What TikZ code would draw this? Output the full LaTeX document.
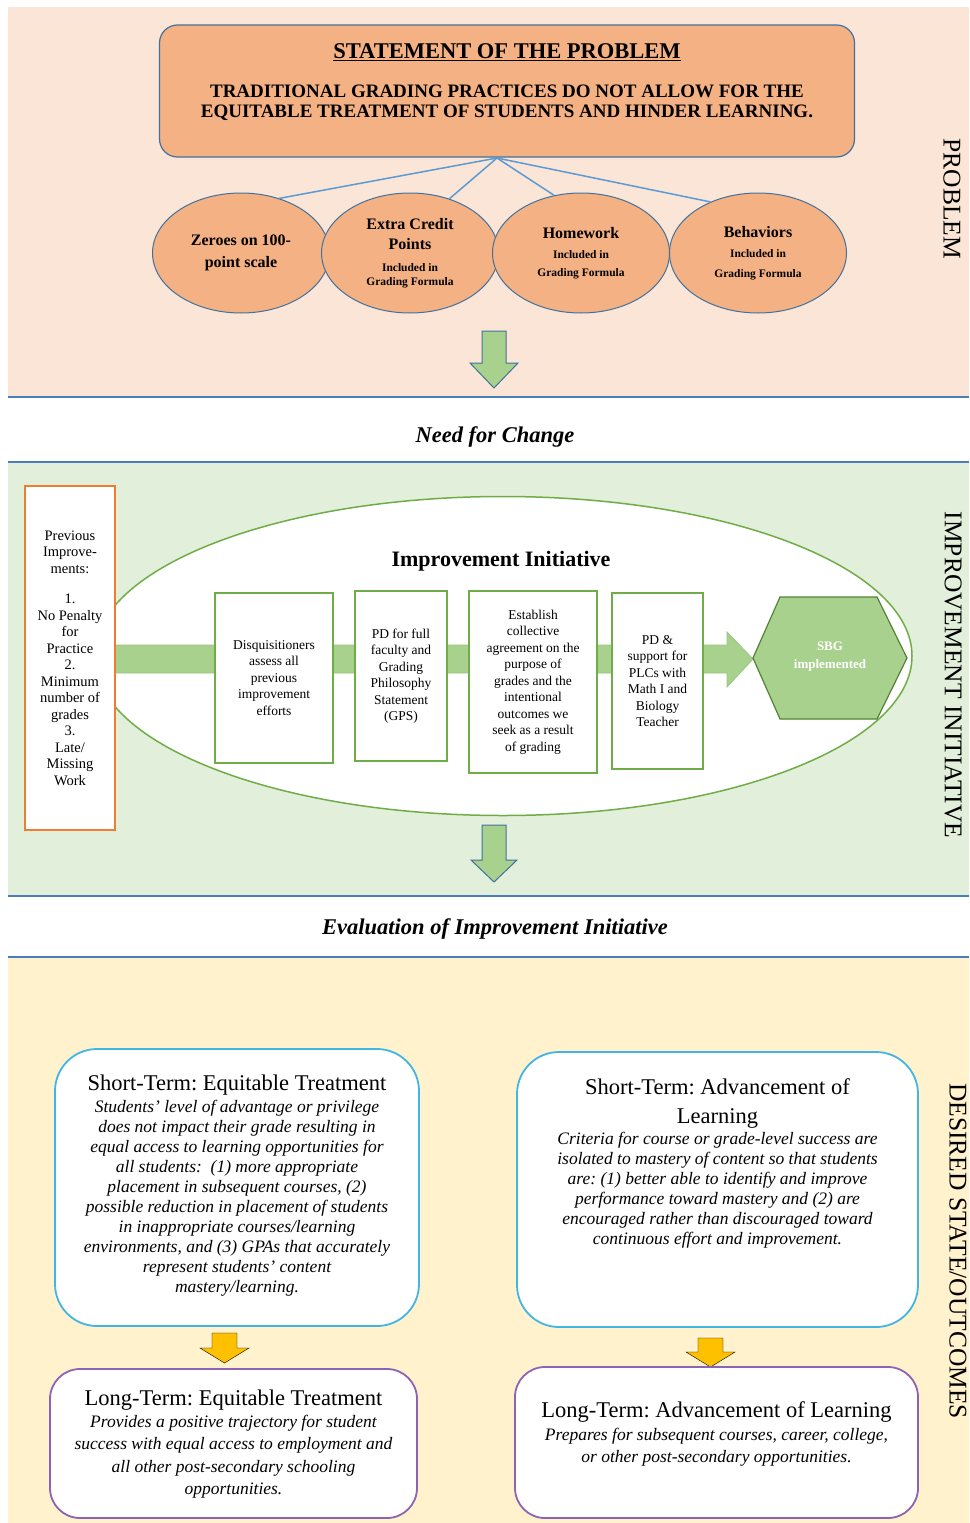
\documentclass[tikz,border=0pt]{standalone}
\usepackage{fontspec}
\setmainfont{Liberation Serif}
\usetikzlibrary{shapes.geometric}

\definecolor{peach}{HTML}{FBE5D6}
\definecolor{mint}{HTML}{E2EFDA}
\definecolor{cream}{HTML}{FFF2CC}
\definecolor{tan}{HTML}{F4B183}
\definecolor{slate}{HTML}{41719C}
\definecolor{sky}{HTML}{5B9BD5}
\definecolor{divider}{HTML}{4A7EBB}
\definecolor{leaf}{HTML}{70AD47}
\definecolor{sage}{HTML}{A9D18E}
\definecolor{moss}{HTML}{548235}
\definecolor{tangerine}{HTML}{ED7D31}
\definecolor{cyanline}{HTML}{41B6E6}
\definecolor{plum}{HTML}{8E63B4}
\definecolor{amber}{HTML}{FFC000}

\newcommand{\fs}[2]{\fontsize{#1}{#2}\selectfont}
% style, x, top, neck, tip, half shaft, half head
\newcommand{\blockdown}[7]{%
\draw[#1] (#2-#6,#3) -- (#2+#6,#3) -- (#2+#6,#4) -- (#2+#7,#4)
  -- (#2,#5) -- (#2-#7,#4) -- (#2-#6,#4) -- cycle;}

\tikzset{
  probbox/.style={draw=slate, line width=1.2pt, fill=tan, rounded corners=18pt},
  circ/.style={ellipse, draw=slate, line width=1pt, fill=tan, minimum width=177pt,
    minimum height=120pt, inner sep=0pt, align=center, font=\fs{11.5}{15}\bfseries},
  spoke/.style={sky, line width=1.5pt},
  sidelabel/.style={rotate=-90, inner sep=0pt, font=\fs{25.5}{30}},
  stagelabel/.style={inner sep=0pt, font=\fs{22.5}{26}\bfseries\itshape},
  stepbox/.style={draw=leaf, line width=1.5pt, fill=white, align=center,
    inner sep=2pt, font=\fs{13.5}{16.5}},
  greenarr/.style={draw=slate, line width=1pt, fill=sage},
  yarr/.style={fill=amber},
  stbox/.style={draw=cyanline, line width=1.8pt, fill=white, rounded corners=42pt},
  ltbox/.style={draw=plum, line width=1.8pt, fill=white, rounded corners=30pt},
  outtext/.style={anchor=north, inner sep=0pt, align=center, font=\fs{17.5}{20}\itshape}
}

\begin{document}
\frenchspacing
\begin{tikzpicture}[x=1pt,y=-1pt]
\useasboundingbox (0,0) rectangle (969,1523);
\fill[peach] (8,7) rectangle (969,397);
\fill[mint] (8,462) rectangle (969,896);
\fill[cream] (8,957) rectangle (969,1523);
\foreach \y in {397,462,896,957}
\draw[divider, line width=1.5pt] (8,\y) -- (969,\y);

% problem
\node[probbox, minimum width=695pt, minimum height=132pt] (stmt) at (507,91) {};
\node[anchor=north, inner sep=0pt, align=center, font=\fs{19}{20}\bfseries] (stmttxt) at (507,43)
  {{\fs{22.5}{20}\underline{STATEMENT OF THE PROBLEM}}\\[19pt]
   TRADITIONAL GRADING PRACTICES DO NOT ALLOW FOR THE\\
   EQUITABLE TREATMENT OF STUDENTS AND HINDER LEARNING.};
\foreach \i/\x/\txt in {
  1/241/{{\fs{16}{15}Zeroes on 100-}\\[7pt]{\fs{16}{15}point scale}},
  2/410/{{\fs{16}{15}Extra Credit}\\[5pt]{\fs{16}{15}Points}\\[7pt]Included in\\[-1pt]Grading Formula},
  3/581/{{\fs{16}{15}Homework}\\[5pt]Included in\\[3pt]Grading Formula},
  4/758/{{\fs{16}{15}Behaviors}\\[5pt]Included in\\[5pt]Grading Formula}}
\node[circ] (c\i) at (\x,253) {\txt};
\coordinate (hub) at (497,158);
\draw[spoke] (hub) -- (c1.55);
\draw[spoke] (hub) -- (c2.54);
\draw[spoke] (hub) -- (c3.115);
\draw[spoke] (hub) -- (c4.133);
\blockdown{greenarr}{494}{331}{363}{388}{12}{24}
\node[sidelabel] (lblprob) at (952,199) {PROBLEM};

\node[stagelabel] (need) at (495,437) {Need for Change};

% improvement initiative
\node[ellipse, draw=leaf, line width=1.5pt, fill=white, minimum width=818pt,
  minimum height=319pt] (oval) at (503,656) {};
\node[inner sep=0pt, font=\fs{22}{26}\bfseries] (imptitle) at (501,561) {Improvement Initiative};
\draw[sage!85!moss, line width=0.8pt, fill=sage] (115,645) -- (727,645) -- (727,632)
  -- (753,659) -- (727,687) -- (727,673) -- (115,673);
\node[draw=tangerine, line width=1.8pt, fill=white, minimum width=90pt, minimum height=344pt,
  align=center, inner sep=0pt, font=\fs{14.5}{16.5}] (prev) at (70,658)
  {Previous\\Improve-\\ments:\\[14pt]1.\\No Penalty\\for\\Practice\\2.\\Minimum\\number of\\grades\\3.\\Late/\\Missing\\Work};
\foreach \i/\x/\y/\w/\h/\txt in {
  1/274/678/118/170/{Disquisitioners\\assess all\\previous\\improvement\\efforts},
  2/401/676/92/170/{PD for full\\faculty and\\Grading\\Philosophy\\Statement\\(GPS)},
  3/533/682/128/182/{Establish\\collective\\agreement on the\\purpose of\\grades and the\\intentional\\outcomes we\\seek as a result\\of grading},
  4/657.5/681/91/176/{PD \&\\support for\\PLCs with\\Math I and\\Biology\\Teacher}}
\node[stepbox, minimum width=\w pt, minimum height=\h pt] (step\i) at (\x,\y) {\txt};
\draw[moss, line width=1.2pt, fill=sage] (753,658) -- (780,597) -- (877,597) -- (907,658)
  -- (877,719) -- (780,719) -- cycle;
\node[align=center, text=white, inner sep=0pt, font=\fs{13}{18}\bfseries] (sbg) at (830,657)
  {SBG\\implemented};
\blockdown{greenarr}{494}{825}{860}{882}{12}{23}
\node[sidelabel] (lblimp) at (953,675) {IMPROVEMENT INITIATIVE};

\node[stagelabel] (eval) at (495,929) {Evaluation of Improvement Initiative};

% desired state / outcomes
\node[stbox, minimum width=364pt, minimum height=277pt] (st1) at (237,1187.5) {};
\node[outtext] (st1txt) at (237,1075)
  {{\fs{22.5}{20}\upshape Short-Term: Equitable Treatment}\\[1.5pt]
   Students' level of advantage or privilege\\
   does not impact their grade resulting in\\
   equal access to learning opportunities for\\
   all students:\ \ (1) more appropriate\\
   placement in subsequent courses, (2)\\
   possible reduction in placement of students\\
   in inappropriate courses/learning\\
   environments, and (3) GPAs that accurately\\
   represent students' content\\
   mastery/learning.};
\node[stbox, minimum width=401pt, minimum height=275pt] (st2) at (717.5,1189.5) {};
\node[outtext] (st2txt) at (717.5,1078)
  {{\fs{22.5}{20}\upshape Short-Term: Advancement of}\\[9pt]
   {\fs{22.5}{20}\upshape Learning}\\[1pt]
   Criteria for course or grade-level success are\\
   isolated to mastery of content so that students\\
   are: (1) better able to identify and improve\\
   performance toward mastery and (2) are\\
   encouraged rather than discouraged toward\\
   continuous effort and improvement.};
\blockdown{yarr}{224.5}{1333}{1348}{1363}{12.5}{24.5}
\blockdown{yarr}{710.5}{1338}{1352}{1367}{12.5}{24.5}
\node[ltbox, minimum width=367pt, minimum height=149pt] (lt1) at (233.5,1443.5) {};
\node[outtext, font=\fs{17.5}{22.5}\itshape] (lt1txt) at (233.5,1389.5)
  {{\fs{22.5}{20}\upshape Long-Term: Equitable Treatment}\\[-0.5pt]
   Provides a positive trajectory for student\\
   success with equal access to employment and\\
   all other post-secondary schooling\\
   opportunities.};
\node[ltbox, minimum width=403pt, minimum height=151pt] (lt2) at (716.5,1442.5) {};
\node[outtext, font=\fs{17.5}{22.5}\itshape] (lt2txt) at (716.5,1401.5)
  {{\fs{22.5}{20}\upshape Long-Term: Advancement of Learning}\\[0pt]
   Prepares for subsequent courses, career, college,\\
   or other post-secondary opportunities.};
\node[sidelabel] (lbldes) at (958,1251) {DESIRED STATE/OUTCOMES};
\end{tikzpicture}
\end{document}
